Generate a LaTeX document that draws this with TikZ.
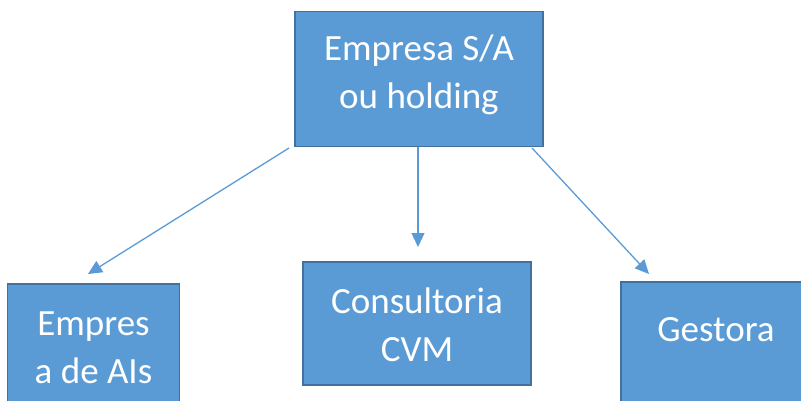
\documentclass[tikz,border=0pt]{standalone}
\usepackage{fontspec}
\setmainfont{Carlito}
\usetikzlibrary{arrows.meta}
\definecolor{boxfill}{HTML}{5B9BD5}
\definecolor{boxline}{HTML}{41719C}
\begin{document}
\begin{tikzpicture}[x=1pt,y=-1pt,
  orgbox/.style={draw=boxline,fill=boxfill,line width=1.8pt,rectangle,inner sep=0pt},
  orglabel/.style={text=white,align=center,font=\fontsize{37}{48}\selectfont,inner sep=0pt},
  conn/.style={draw=boxfill,line width=1.3pt,-{Triangle[length=14pt,width=13pt]}}]
\useasboundingbox (0,0) rectangle (801,400);
\begin{scope}
\clip (0,0) rectangle (801,400);
\node[orgbox,minimum width=248pt,minimum height=135pt] (top) at (419,79) {};
\node[orgbox,minimum width=172pt,minimum height=160pt] (left) at (93.5,364) {};
\node[orgbox,minimum width=228pt,minimum height=123pt] (mid) at (417,323.5) {};
\node[orgbox,minimum width=190pt,minimum height=160pt] (right) at (716,362) {};
\end{scope}
\node[orglabel] (toplab) at (419,74.5) {Empresa S/A\\ou holding};
\node[orglabel] (leftlab) at (93.5,347.5) {Empres\\a de AIs};
\node[orglabel] (midlab) at (417,324.5) {Consultoria\\CVM};
\node[orglabel] (rightlab) at (716,330) {Gestora};
\coordinate (s1) at (289,148);
\coordinate (s2) at (418,147);
\coordinate (s3) at (532,148);
\coordinate (e1) at (88,274);
\coordinate (e2) at (418,247);
\coordinate (e3) at (649,274);
\draw[conn] (s1) -- (e1);
\draw[conn] (s2) -- (e2);
\draw[conn] (s3) -- (e3);
\end{tikzpicture}
\end{document}
